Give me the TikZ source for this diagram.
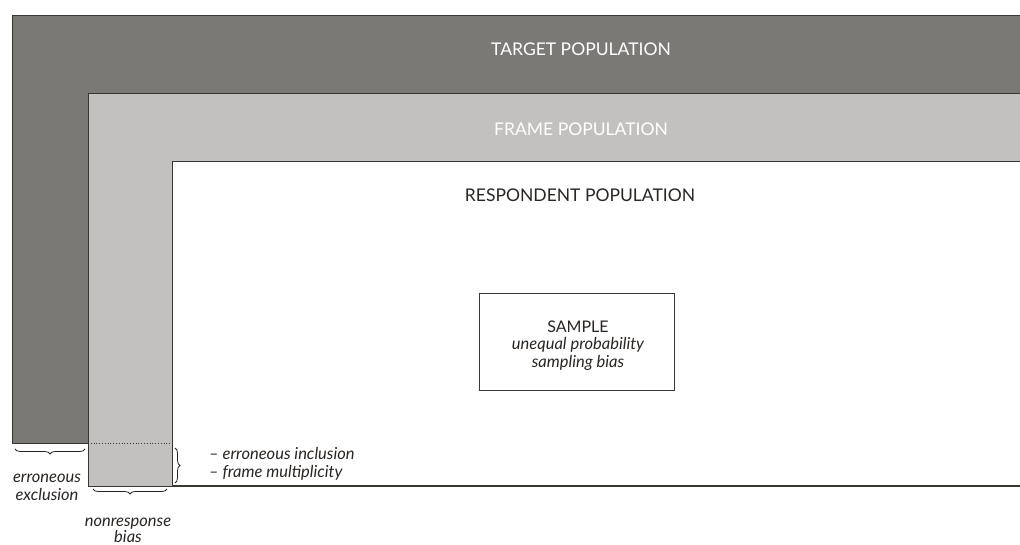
\documentclass[tikz,border=0pt]{standalone}
\usepackage{fontspec}
\setmainfont{Lato}
\usetikzlibrary{decorations.pathreplacing}
\definecolor{darkfill}{HTML}{7B7975}
\definecolor{lightfill}{HTML}{C2C1BF}
\definecolor{edge}{HTML}{3A3632}
\definecolor{ink}{HTML}{2A2623}
\tikzset{
  region/.style={draw=edge, line width=1pt},
  poplabel/.style={font=\fontsize{17.5}{20}\selectfont, inner sep=0pt},
  note/.style={font=\itshape\fontsize{16.5}{18}\selectfont, text=ink, inner sep=0pt},
  bracestyle/.style={draw=ink, line width=0.8pt, decorate, decoration={brace, amplitude=5pt}},
}
\begin{document}
\begin{tikzpicture}[x=1pt, y=-1pt]
\useasboundingbox (0,0) rectangle (1020,545);
\begin{scope}
\clip (0,0) rectangle (1020,545);
\fill[white] (0,0) rectangle (1020,545);
\draw[region, fill=darkfill] (12,16) rectangle (1040,443);
\draw[region, fill=lightfill] (88,94) rectangle (1040,486);
\draw[region, fill=white] (172,162) rectangle (1040,486);
\draw[edge, line width=1.8pt] (172,486) -- (1040,486);
\draw[edge, dotted, line width=0.8pt] (88,443) -- (172,443);
\end{scope}
\node[poplabel, text=white] (target) at (581,49) {TARGET POPULATION};
\node[poplabel, text=white] (frame) at (581,129) {FRAME POPULATION};
\node[poplabel, text=ink] (resp) at (580,195) {RESPONDENT POPULATION};
\node[draw=edge, line width=1pt, minimum width=195pt, minimum height=96pt, inner sep=0pt] (sample) at (576.5,342) {};
\node[poplabel, text=ink, font=\fontsize{16}{18}\selectfont] (sampletitle) at (578,327) {SAMPLE};
\node[note, align=center] (samplenote) at (578,354) {unequal probability\\sampling bias};
\coordinate (exA) at (15,449);
\coordinate (exB) at (85,449);
\coordinate (nrA) at (93,489);
\coordinate (nrB) at (167,489);
\coordinate (inA) at (175,448);
\coordinate (inB) at (175,483);
\draw[bracestyle] (exB) -- (exA);
\draw[bracestyle] (nrB) -- (nrA);
\draw[bracestyle] (inA) -- (inB);
\node[note, align=center] (exlabel) at (47,487) {erroneous\\exclusion};
\node[note, align=center, font=\itshape\fontsize{16.5}{16}\selectfont] (nrlabel) at (128,530) {nonresponse\\bias};
\node[note, anchor=west, align=left] (inlabel) at (209,464) {-- erroneous inclusion\\-- frame multiplicity};
\end{tikzpicture}
\end{document}
